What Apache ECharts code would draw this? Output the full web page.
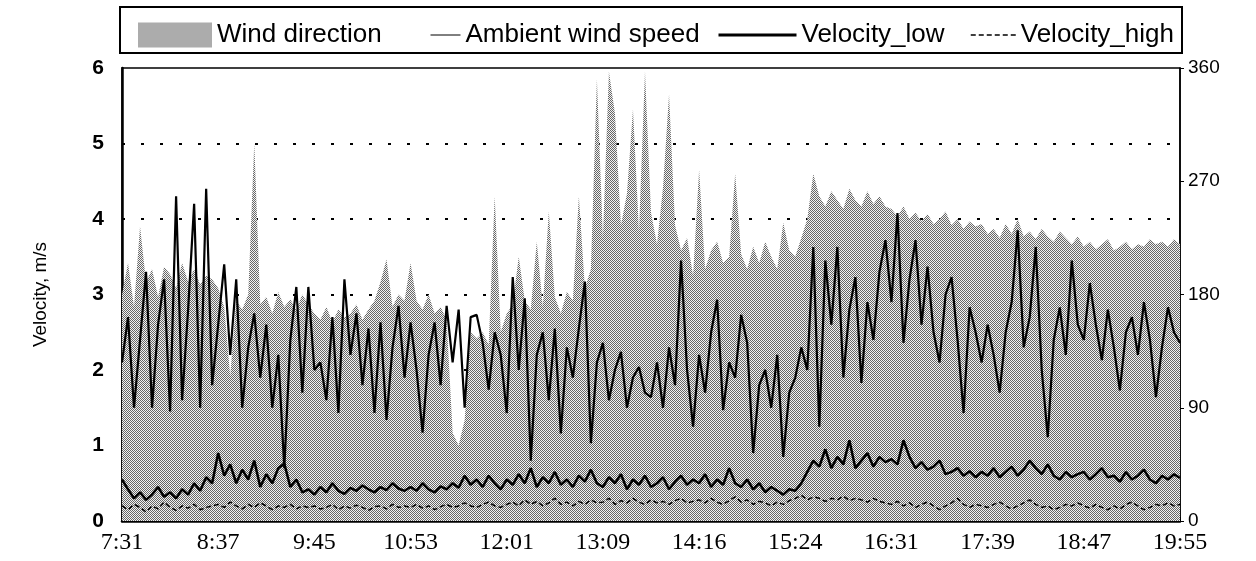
<!DOCTYPE html>
<html>
<head>
<meta charset="utf-8">
<script src="https://cdn.jsdelivr.net/npm/echarts@6/dist/echarts.min.js"></script>
<style>
    html, body { margin: 0; padding: 0; background: #fff; }
    #chart { width: 1256px; height: 561px; }
</style>
</head>
<body>
<div id="chart"></div>
<script>
    // x tick labels, one every 16 samples
    var tickLabels = ['7:31', '8:37', '9:45', '10:53', '12:01', '13:09', '14:16', '15:24', '16:31', '17:39', '18:47', '19:55'];

    // wind direction, degrees (right axis)
    var windDir = [
        180, 205, 170, 234, 190, 200, 178, 202, 196, 185, 205, 190, 200, 188, 195, 192,
        185, 170, 115, 175, 168, 180, 300, 172, 178, 165, 182, 170, 176, 168, 180, 172,
        165, 160, 170, 158, 168, 162, 165, 172, 160, 168, 175, 190, 208, 170, 180, 175,
        205, 175, 168, 180, 165, 170, 160, 70, 60, 80, 150, 145, 150, 140, 258, 150,
        165, 172, 210, 175, 168, 222, 170, 246, 178, 165, 182, 175, 258, 185, 200, 351,
        225, 357, 324, 235, 260, 327, 230, 357, 245, 220, 265, 339, 235, 215, 225, 195,
        279, 200, 215, 222, 205, 210, 276, 212, 200, 218, 205, 222, 210, 200, 237, 215,
        210, 225, 240, 276, 258, 250, 262, 255, 248, 264, 255, 250, 262, 252, 258, 250,
        248, 242, 250, 240, 245, 238, 244, 236, 240, 246, 235, 240, 232, 238, 234, 236,
        228, 232, 225, 236, 228, 240, 226, 230, 224, 232, 226, 222, 230, 225, 220, 226,
        218, 222, 216, 220, 224, 215, 218, 222, 216, 220, 218, 224, 220, 222, 218, 224, 220
    ];

    // ambient wind speed, m/s
    var ambient = [
        2.1, 2.7, 1.5, 2.4, 3.3, 1.5, 2.6, 3.2, 1.45, 4.3, 1.6, 2.8, 4.2, 1.5, 4.4, 1.8,
        2.6, 3.4, 2.2, 3.2, 1.5, 2.3, 2.75, 1.9, 2.6, 1.5, 2.2, 0.7, 2.4, 3.1, 1.7, 3.1,
        2.0, 2.1, 1.6, 2.7, 1.43, 3.2, 2.2, 2.75, 1.8, 2.55, 1.43, 2.63, 1.34, 2.3, 2.85, 1.9,
        2.63, 2.0, 1.17, 2.2, 2.63, 1.8, 2.85, 2.1, 2.8, 1.5, 2.7, 2.73, 2.36, 1.74, 2.5, 2.2,
        1.43, 3.23, 2.0, 2.95, 0.8, 2.2, 2.5, 1.6, 2.55, 1.16, 2.3, 1.9, 2.55, 3.17, 1.03, 2.1,
        2.36, 1.6, 2.0, 2.24, 1.5, 1.9, 2.04, 1.7, 1.64, 2.1, 1.5, 2.3, 1.8, 3.45, 2.0, 1.25,
        2.2, 1.7, 2.5, 2.93, 1.47, 2.1, 1.9, 2.73, 2.36, 0.9, 1.8, 2.0, 1.5, 2.2, 0.85, 1.7,
        1.9, 2.3, 2.0, 3.63, 1.25, 3.45, 2.6, 3.63, 1.9, 2.8, 3.23, 1.83, 2.9, 2.4, 3.3, 3.72,
        2.9, 4.08, 2.36, 3.2, 3.72, 2.6, 3.37, 2.5, 2.1, 3.0, 3.23, 2.4, 1.43, 2.83, 2.5, 2.1,
        2.6, 2.2, 1.7, 2.5, 2.9, 3.85, 2.3, 2.7, 3.63, 2.0, 1.11, 2.4, 2.83, 2.2, 3.45, 2.6,
        2.4, 3.15, 2.6, 2.13, 2.8, 2.3, 1.73, 2.5, 2.7, 2.2, 2.9, 2.4, 1.64, 2.3, 2.83, 2.5, 2.36
    ];

    var velLow = [
        0.55, 0.42, 0.3, 0.38, 0.28, 0.35, 0.45, 0.32, 0.38, 0.3, 0.42, 0.35, 0.5, 0.4, 0.58, 0.5,
        0.9, 0.6, 0.75, 0.5, 0.68, 0.55, 0.8, 0.45, 0.62, 0.5, 0.7, 0.76, 0.45, 0.55, 0.38, 0.42,
        0.35, 0.45, 0.38, 0.5, 0.4, 0.36, 0.44, 0.4, 0.47, 0.42, 0.38, 0.45, 0.41, 0.5, 0.43, 0.4,
        0.45, 0.4, 0.5, 0.42, 0.38, 0.46, 0.42, 0.5, 0.44, 0.6, 0.48, 0.55, 0.45, 0.6, 0.5, 0.42,
        0.55, 0.48, 0.62, 0.5, 0.7, 0.45, 0.58, 0.5, 0.65, 0.48, 0.55, 0.45, 0.6, 0.52, 0.68, 0.5,
        0.45, 0.58, 0.5, 0.62, 0.42, 0.55, 0.48, 0.6, 0.45, 0.5, 0.58, 0.42, 0.52, 0.6, 0.48, 0.55,
        0.5, 0.62, 0.45, 0.55, 0.48, 0.7, 0.5, 0.45, 0.55, 0.42, 0.5, 0.38, 0.45, 0.4, 0.35, 0.42,
        0.4, 0.5, 0.65, 0.8, 0.72, 0.95, 0.7, 0.85, 0.75, 1.07, 0.7, 0.8, 0.9, 0.72, 0.85, 0.78,
        0.82, 0.75, 1.07, 0.85, 0.7, 0.78, 0.68, 0.72, 0.8, 0.62, 0.65, 0.7, 0.6, 0.66, 0.58, 0.65,
        0.6, 0.7, 0.58, 0.65, 0.72, 0.6, 0.68, 0.8, 0.7, 0.62, 0.75, 0.6, 0.55, 0.65, 0.58, 0.62,
        0.65, 0.55, 0.62, 0.7, 0.58, 0.6, 0.52, 0.65, 0.55, 0.6, 0.68, 0.55, 0.5, 0.6, 0.55, 0.62, 0.57
    ];

    var velHigh = [
        0.2, 0.15, 0.22, 0.18, 0.12, 0.2, 0.16, 0.25, 0.18, 0.14, 0.2, 0.17, 0.22, 0.15, 0.18, 0.2,
        0.22, 0.18, 0.25, 0.2, 0.16, 0.22, 0.18, 0.24, 0.2, 0.15, 0.2, 0.18, 0.22, 0.16, 0.2, 0.18,
        0.2, 0.16, 0.18, 0.22, 0.15, 0.2, 0.17, 0.21, 0.18, 0.14, 0.19, 0.2, 0.16, 0.22, 0.18, 0.2,
        0.18, 0.22, 0.17, 0.2, 0.15, 0.19, 0.22, 0.18, 0.2, 0.24, 0.2, 0.18, 0.22, 0.25, 0.2, 0.18,
        0.22, 0.25, 0.2, 0.28, 0.22, 0.26, 0.2, 0.24, 0.3, 0.22, 0.25, 0.2, 0.26, 0.22, 0.28, 0.24,
        0.25, 0.3, 0.22, 0.27, 0.24, 0.3, 0.25, 0.22, 0.28, 0.24, 0.26, 0.22, 0.27, 0.3, 0.24, 0.26,
        0.28, 0.24, 0.3, 0.25, 0.22, 0.27, 0.32, 0.25, 0.28, 0.22, 0.26, 0.24, 0.2, 0.25, 0.22, 0.27,
        0.3, 0.34, 0.28, 0.32, 0.3, 0.26, 0.3, 0.28, 0.33, 0.27, 0.3, 0.28, 0.25, 0.3, 0.26, 0.24,
        0.22, 0.26, 0.2, 0.24, 0.18, 0.22, 0.25, 0.2, 0.15, 0.2, 0.24, 0.3, 0.22, 0.18, 0.22, 0.2,
        0.18, 0.22, 0.25, 0.2, 0.16, 0.2, 0.24, 0.28, 0.22, 0.18, 0.2, 0.15, 0.18, 0.22, 0.2, 0.24,
        0.2, 0.17, 0.22, 0.18, 0.15, 0.2, 0.16, 0.22, 0.25, 0.2, 0.15, 0.18, 0.22, 0.2, 0.24, 0.2, 0.22
    ];

    var chart = echarts.init(document.getElementById('chart'));

    // stipple fill like the printed original
    var pat = document.createElement('canvas');
    pat.width = 2;
    pat.height = 2;
    var pctx = pat.getContext('2d');
    pctx.fillStyle = '#f2f2f2';
    pctx.fillRect(0, 0, 2, 2);
    pctx.fillStyle = '#666';
    pctx.fillRect(0, 0, 1, 1);
    pctx.fillRect(1, 1, 1, 1);
    var dotFill = { image: pat, repeat: 'repeat' };

    var step = (windDir.length - 1) / (tickLabels.length - 1);

    function pairs(arr) {
        return arr.map(function (v, i) { return [i, v]; });
    }

    var sans = 'Liberation Sans, Arial, sans-serif';
    var legendText = { fontFamily: sans, fontSize: 26, color: '#000' };

    // line legends: hide the default circle marker, keep the stroke
    function lineLegend(name, left, w, lw) {
        return {
            left: left, top: 17, itemWidth: w, itemHeight: 25, itemGap: 0,
            selectedMode: false, textStyle: legendText,
            itemStyle: { opacity: 0 },
            lineStyle: { width: lw },
            data: [name]
        };
    }

    var option = {
        animation: false,
        backgroundColor: '#fff',
        graphic: [{
            type: 'rect',
            shape: { x: 120, y: 7, width: 1062, height: 46 },
            style: { fill: 'none', stroke: '#000', lineWidth: 2 }
        }],
        legend: [
            { left: 133, top: 17, itemWidth: 74, itemHeight: 25, selectedMode: false, textStyle: legendText,
              data: [{ name: 'Wind direction', icon: 'rect', itemStyle: { color: dotFill } }] },
            lineLegend('Ambient wind speed', 425, 30, 1),
            lineLegend('Velocity_low', 712, 78, 3),
            lineLegend('Velocity_high', 965, 45, 1.5)
        ],
        grid: {
            left: 122, right: 76, top: 68, bottom: 40,
            show: true, borderColor: '#000', borderWidth: 1.5
        },
        xAxis: {
            type: 'value',
            min: 0,
            max: windDir.length - 1,
            interval: step,
            axisLine: { lineStyle: { color: '#000', width: 2.5 } },
            axisTick: { show: true, inside: true, length: 4, lineStyle: { color: '#000' } },
            splitLine: { show: false },
            axisLabel: {
                color: '#000',
                fontFamily: 'Liberation Serif, Times New Roman, serif',
                fontSize: 24,
                margin: 10,
                formatter: function (v) { return tickLabels[Math.round(v / step)]; }
            }
        },
        yAxis: [
            {
                type: 'value',
                min: 0, max: 6, interval: 1,
                name: 'Velocity, m/s',
                nameLocation: 'middle',
                nameGap: 72,
                nameTextStyle: { fontFamily: sans, fontSize: 19, color: '#000' },
                axisLine: { show: true, lineStyle: { color: '#000', width: 2.5 } },
                axisTick: { show: false },
                axisLabel: { color: '#000', fontFamily: sans, fontSize: 21, fontWeight: 'bold', margin: 18 },
                splitLine: {
                    show: true, showMinLine: false, showMaxLine: false,
                    lineStyle: { color: '#000', width: 2, type: [3, 16] }
                }
            },
            {
                type: 'value',
                min: 0, max: 360, interval: 90,
                position: 'right',
                axisLine: { show: true, lineStyle: { color: '#000', width: 1.5 } },
                axisTick: { show: true, length: 4, lineStyle: { color: '#000' } },
                axisLabel: { color: '#000', fontFamily: sans, fontSize: 19, margin: 8 },
                splitLine: { show: false }
            }
        ],
        series: [
            {
                name: 'Wind direction',
                type: 'line',
                yAxisIndex: 1,
                symbol: 'none',
                itemStyle: { color: '#999' },
                lineStyle: { width: 0 },
                areaStyle: { color: dotFill, opacity: 1 },
                data: pairs(windDir),
                z: 1
            },
            {
                name: 'Ambient wind speed',
                type: 'line',
                symbol: 'none',
                itemStyle: { color: '#000' },
                lineStyle: { color: '#000', width: 2.2 },
                data: pairs(ambient),
                z: 3
            },
            {
                name: 'Velocity_low',
                type: 'line',
                symbol: 'none',
                itemStyle: { color: '#000' },
                lineStyle: { color: '#000', width: 2.5 },
                data: pairs(velLow),
                z: 3
            },
            {
                name: 'Velocity_high',
                type: 'line',
                symbol: 'none',
                itemStyle: { color: '#000' },
                lineStyle: { color: '#000', width: 1.5, type: [5, 3] },
                data: pairs(velHigh),
                z: 3
            }
        ]
    };

    chart.setOption(option);
</script>
</body>
</html>
